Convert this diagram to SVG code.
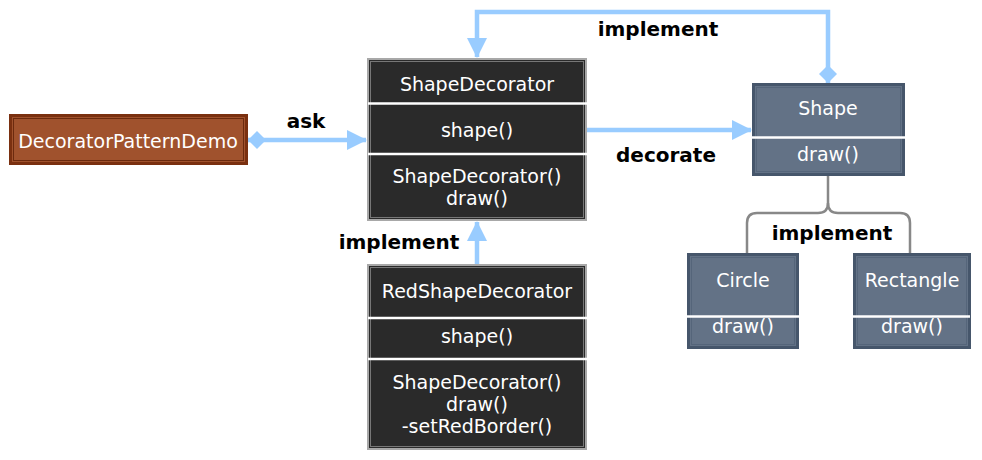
<svg xmlns="http://www.w3.org/2000/svg" width="982" height="460" viewBox="0 0 982 460">
<defs>
<style>
.nt{font-family:"DejaVu Sans","Liberation Sans",sans-serif;font-size:19px;fill:#ffffff;text-anchor:middle}
.lb{font-family:"DejaVu Sans","Liberation Sans",sans-serif;font-size:20px;font-weight:bold;fill:#000;text-anchor:middle}
.dk{fill:#2a2a2a;stroke:#a8a8a8;stroke-width:2}
.dki{fill:none;stroke:#777777;stroke-width:1}
.sl{fill:#637286;stroke:#46566b;stroke-width:3}
.sli{fill:none;stroke:#55657a;stroke-width:1}
.br{fill:#a0522d;stroke:#7a3010;stroke-width:3}
.bri{fill:none;stroke:#6b2a0e;stroke-width:1}
.sep{stroke:#ffffff;stroke-width:2.5}
.bl{fill:none;stroke:#99ccff;stroke-width:4.5}
.gr{fill:none;stroke:#888888;stroke-width:2.5}
</style>
<marker id="arr" viewBox="0 0 20 20" refX="19" refY="10" markerWidth="20" markerHeight="20" markerUnits="userSpaceOnUse" orient="auto">
<path d="M0,0 L20,10 L0,20 Z" fill="#99ccff"/>
</marker>
<marker id="dia" viewBox="0 0 18 18" refX="0" refY="9" markerWidth="18" markerHeight="18" markerUnits="userSpaceOnUse" orient="auto">
<path d="M0,9 L9,0 L18,9 L9,18 Z" fill="#99ccff"/>
</marker>
</defs>

<g id="connectors">
<path class="bl" d="M248,140 L366,140" marker-start="url(#dia)" marker-end="url(#arr)"/>
<path class="bl" d="M587,130 L751,130" marker-end="url(#arr)"/>
<path class="bl" d="M828,83 L828,12 L477,12 L477,57" marker-start="url(#dia)" marker-end="url(#arr)"/>
<path class="bl" d="M477,265 L477,222" marker-end="url(#arr)"/>
<path class="gr" d="M828,176 L828,203 Q828,213 818,213 L757,213 Q747,213 747,223 L747,254"/>
<path class="gr" d="M828,203 Q828,213 838,213 L900,213 Q910,213 910,223 L910,254"/>
<text class="lb" x="306" y="128">ask</text>
<text class="lb" x="658" y="36">implement</text>
<text class="lb" x="666" y="162">decorate</text>
<text class="lb" x="399" y="249">implement</text>
<text class="lb" x="832" y="240">implement</text>
</g>

<g id="DecoratorPatternDemo">
<rect class="br" x="10.5" y="115.5" width="236" height="48"/>
<rect class="bri" x="13.5" y="118.5" width="230" height="42"/>
<text class="nt" x="128" y="148">DecoratorPatternDemo</text>
</g>

<g id="ShapeDecorator">
<rect class="dk" x="368" y="59" width="218" height="161"/>
<rect class="dki" x="370.5" y="61.5" width="213" height="156"/>
<line class="sep" x1="368" y1="103.5" x2="587" y2="103.5"/>
<line class="sep" x1="368" y1="154" x2="587" y2="154"/>
<text class="nt" x="477" y="91">ShapeDecorator</text>
<text class="nt" x="477" y="137">shape()</text>
<text class="nt" x="477" y="183">ShapeDecorator()</text>
<text class="nt" x="477" y="205">draw()</text>
</g>

<g id="RedShapeDecorator">
<rect class="dk" x="368" y="265" width="218" height="184"/>
<rect class="dki" x="370.5" y="267.5" width="213" height="179"/>
<line class="sep" x1="368" y1="318" x2="587" y2="318"/>
<line class="sep" x1="368" y1="359" x2="587" y2="359"/>
<text class="nt" x="477" y="298">RedShapeDecorator</text>
<text class="nt" x="477" y="343">shape()</text>
<text class="nt" x="477" y="389">ShapeDecorator()</text>
<text class="nt" x="477" y="411">draw()</text>
<text class="nt" x="477" y="433">-setRedBorder()</text>
</g>

<g id="Shape">
<rect class="sl" x="753.5" y="84.5" width="150" height="90"/>
<rect class="sli" x="756.5" y="87.5" width="144" height="84"/>
<line class="sep" x1="752" y1="137.5" x2="905" y2="137.5"/>
<text class="nt" x="828" y="115">Shape</text>
<text class="nt" x="828" y="161">draw()</text>
</g>

<g id="Circle">
<rect class="sl" x="688.5" y="254.5" width="109" height="93"/>
<rect class="sli" x="691.5" y="257.5" width="103" height="87"/>
<line class="sep" x1="686" y1="316.5" x2="799" y2="316.5"/>
<text class="nt" x="743" y="287">Circle</text>
<text class="nt" x="743" y="333">draw()</text>
</g>

<g id="Rectangle">
<rect class="sl" x="854.5" y="254.5" width="115" height="93"/>
<rect class="sli" x="857.5" y="257.5" width="109" height="87"/>
<line class="sep" x1="853" y1="316.5" x2="970" y2="316.5"/>
<text class="nt" x="912" y="287">Rectangle</text>
<text class="nt" x="912" y="333">draw()</text>
</g>
</svg>
